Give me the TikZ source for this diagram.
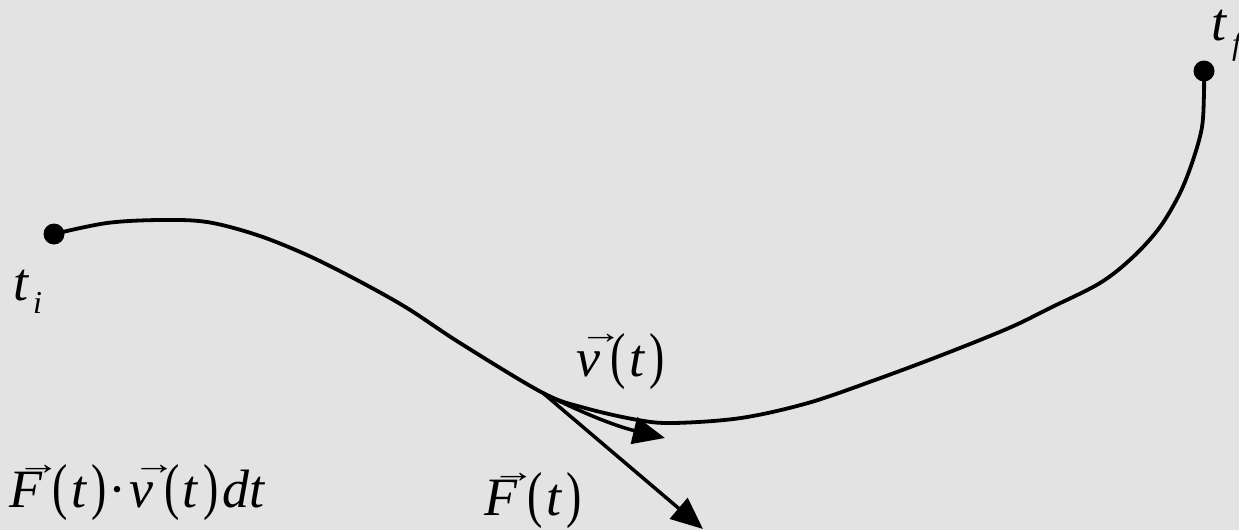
\documentclass[tikz,border=0pt]{standalone}
\usepackage{fontspec}
\usepackage{graphicx}
\setmainfont{Liberation Serif}
\usetikzlibrary{arrows.meta}
\newcommand\myvec[2][0.1em]{\rlap{\kern#1\raisebox{0.6em}{\scalebox{0.8}[0.6]{\upshape →}}}#2}
\newcommand\myit[1]{{\itshape #1}}
\newcommand\mylp{\scalebox{0.85}[1.15]{(}}
\newcommand\myrp{\scalebox{0.85}[1.15]{)}}
\newcommand\argt{\kern0.2em\mylp\kern0.06em\myit{t}\kern0.1em\myrp}
\definecolor{bggray}{HTML}{E3E3E3}
\tikzset{
  lbl/.style={inner sep=0pt, anchor=base west, font=\fontsize{54}{60}\selectfont},
  sublbl/.style={inner sep=0pt, anchor=base west, font=\fontsize{32}{36}\selectfont\itshape},
  endpt/.style={circle, fill=black, inner sep=0pt, minimum size=21pt},
  pathline/.style={line width=3.8pt, line cap=round, line join=round},
  vecarrow/.style={line width=3.5pt, -{Triangle[length=32pt,width=27pt]}},
}
\begin{document}
\begin{tikzpicture}[x=1pt,y=-1pt]
\fill[bggray] (0,0) rectangle (1239,530);
\useasboundingbox (0,0) rectangle (1239,530);
\node[endpt] (ti) at (54,234) {};
\node[endpt] (tf) at (1204,71) {};
\coordinate (P) at (543,393);
\coordinate (vtip) at (665,438);
\coordinate (Ftip) at (703,529);
\draw[pathline] plot[smooth, tension=0.55] coordinates {
  (ti.center) (107,223) (160,220) (207,222) (257,235) (307,255) (357,280)
  (407,308) (460,343) (P) (585,408) (638,420) (674,423) (741,418)
  (808,403) (875,380) (942,355) (1009,328) (1050,308) (1100,283) (1133,257)
  (1160,227) (1180,193) (1193,160) (1202,127) (1204,93) (tf.center)};
\draw[vecarrow] (P) .. controls (580,412) and (615,426) .. (vtip);
\draw[vecarrow] (P) -- (Ftip);
\node[lbl] (lti) at (13,300) {\myit{t}};
\node[sublbl] (lti2) at (33,313) {i};
\node[lbl] (ltf) at (1211,40) {\myit{t}};
\node[sublbl] (ltf2) at (1232,54) {f};
\node[lbl] (lv) at (576,376) {\myvec[0.06em]{\myit{v}}\argt};
\node[lbl] (lF) at (484,515) {\myvec[0.14em]{\myit{F}}\argt};
\node[lbl] (lW) at (9,507) {\myvec[0.14em]{\myit{F}}\argt\kern0.02em·\kern0.06em\myvec[0.06em]{\myit{v}}\argt\kern0.08em\myit{dt}};
\end{tikzpicture}
\end{document}
